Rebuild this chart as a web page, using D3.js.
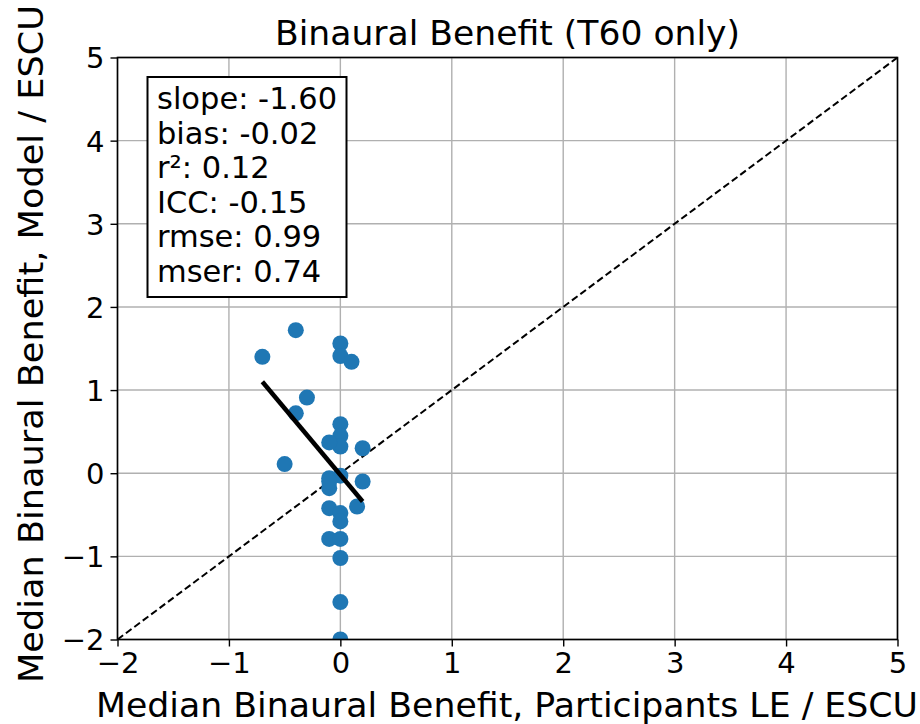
<!DOCTYPE html>
<html>
<head>
<meta charset="utf-8">
<script src="https://cdn.jsdelivr.net/npm/d3@7"></script>
<style>
  body { margin: 0; background: #fff; }
  text { font-family: "DejaVu Sans", sans-serif; fill: #000; }
</style>
</head>
<body>
<div id="wrapper"></div>
<script>
// participants (x) vs model (y), median binaural benefit
const participants = [-0.7, -0.4, 0, 0, 0.1, -0.3, -0.4, -0.5, 0, 0, 0, -0.1, 0.2,
    -0.1, 0, 0.2, -0.1, 0.15, -0.1, 0, 0, -0.1, 0, 0, 0, 0, -0.1];
const model = [1.40, 1.72, 1.56, 1.41, 1.34, 0.91, 0.72, 0.11, 0.59, 0.45, 0.32, 0.37, 0.30,
    -0.06, -0.03, -0.10, -0.18, -0.40, -0.42, -0.48, -0.58, -0.79, -0.79, -1.02, -1.55, -2.0, -0.10];
const fitSlope = -1.60;
const fitBias = -0.02;
const statLines = ["slope: -1.60", "bias: -0.02", "r²: 0.12", "ICC: -0.15", "rmse: 0.99", "mser: 0.74"];
const ticks = [-2, -1, 0, 1, 2, 3, 4, 5];
const titleText = "Binaural Benefit (T60 only)";
const xLabelText = "Median Binaural Benefit, Participants LE / ESCU";
const yLabelText = "Median Binaural Benefit, Model / ESCU";

const dimensions = {
    width: 920,
    height: 724,
    margin: { top: 57.5, right: 22.5, bottom: 84.5, left: 117.5 },
};
dimensions.boundedWidth = dimensions.width - dimensions.margin.left - dimensions.margin.right;
dimensions.boundedHeight = dimensions.height - dimensions.margin.top - dimensions.margin.bottom;

const wrapper = d3.select("#wrapper")
    .append("svg")
    .attr("width", dimensions.width)
    .attr("height", dimensions.height);

const bounds = wrapper.append("g")
    .attr("transform", `translate(${dimensions.margin.left},${dimensions.margin.top})`);

const xScale = d3.scaleLinear().domain([-2, 5]).range([0, dimensions.boundedWidth]);
const yScale = d3.scaleLinear().domain([-2, 5]).range([dimensions.boundedHeight, 0]);

// grid
bounds.append("g").selectAll("line").data(ticks).join("line")
    .attr("x1", d => xScale(d)).attr("x2", d => xScale(d))
    .attr("y1", 0).attr("y2", dimensions.boundedHeight)
    .attr("stroke", "#b0b0b0").attr("stroke-width", 1.4);
bounds.append("g").selectAll("line").data(ticks).join("line")
    .attr("y1", d => yScale(d)).attr("y2", d => yScale(d))
    .attr("x1", 0).attr("x2", dimensions.boundedWidth)
    .attr("stroke", "#b0b0b0").attr("stroke-width", 1.4);

// identity line
bounds.append("line")
    .attr("x1", xScale(-2)).attr("y1", yScale(-2))
    .attr("x2", xScale(5)).attr("y2", yScale(5))
    .attr("stroke", "#000").attr("stroke-width", 2)
    .attr("stroke-dasharray", "7,3.5");

bounds.append("clipPath").attr("id", "clip")
    .append("rect").attr("width", dimensions.boundedWidth).attr("height", dimensions.boundedHeight);

// points
bounds.append("g").attr("clip-path", "url(#clip)")
    .selectAll("circle").data(participants).join("circle")
    .attr("cx", d => xScale(d))
    .attr("cy", (d, i) => yScale(model[i]))
    .attr("r", 8)
    .attr("fill", "#1f77b4");

// regression line over data range
const xExt = d3.extent(participants);
bounds.append("line")
    .attr("x1", xScale(xExt[0])).attr("y1", yScale(fitSlope * xExt[0] + fitBias))
    .attr("x2", xScale(xExt[1])).attr("y2", yScale(fitSlope * xExt[1] + fitBias))
    .attr("stroke", "#000").attr("stroke-width", 4.5);

// axes
const fmt = d => d < 0 ? "\u2212" + Math.abs(d) : String(d);
const xAxis = bounds.append("g")
    .attr("transform", `translate(0,${dimensions.boundedHeight})`)
    .call(d3.axisBottom(xScale).tickValues(ticks).tickFormat(fmt).tickSize(7).tickPadding(6));
const yAxis = bounds.append("g")
    .call(d3.axisLeft(yScale).tickValues(ticks).tickFormat(fmt).tickSize(7).tickPadding(6));
[xAxis, yAxis].forEach(ax => {
    ax.select(".domain").remove();
    ax.selectAll("line").attr("stroke", "#000").attr("stroke-width", 1.4);
    ax.selectAll("text").style("font-size", "29px").attr("font-family", "DejaVu Sans").attr("fill", "#000");
});
yAxis.selectAll("text").attr("dy", "0.36em");

bounds.append("rect")
    .attr("width", dimensions.boundedWidth).attr("height", dimensions.boundedHeight)
    .attr("fill", "none").attr("stroke", "#000").attr("stroke-width", 1.6);

// stats box
const box = bounds.append("g").attr("transform", `translate(${147.5 - dimensions.margin.left},${77 - dimensions.margin.top})`);
box.append("rect").attr("width", 199).attr("height", 220)
    .attr("fill", "#fff").attr("stroke", "#000").attr("stroke-width", 2);
box.selectAll("text").data(statLines).join("text")
    .attr("x", 9.5)
    .attr("y", (d, i) => 32 + i * 34.6)
    .style("font-size", "30.5px")
    .text(d => d);

// titles
wrapper.append("text")
    .attr("x", 507.5).attr("y", 45)
    .attr("text-anchor", "middle")
    .style("font-size", "34px")
    .attr("textLength", 465).attr("lengthAdjust", "spacingAndGlyphs")
    .text(titleText);
wrapper.append("text")
    .attr("x", 507).attr("y", 717)
    .attr("text-anchor", "middle")
    .style("font-size", "33px")
    .attr("textLength", 822).attr("lengthAdjust", "spacingAndGlyphs")
    .text(xLabelText);
wrapper.append("text")
    .attr("transform", "translate(43,344) rotate(-90)")
    .attr("text-anchor", "middle")
    .style("font-size", "33px")
    .attr("textLength", 678).attr("lengthAdjust", "spacingAndGlyphs")
    .text(yLabelText);
</script>
</body>
</html>
